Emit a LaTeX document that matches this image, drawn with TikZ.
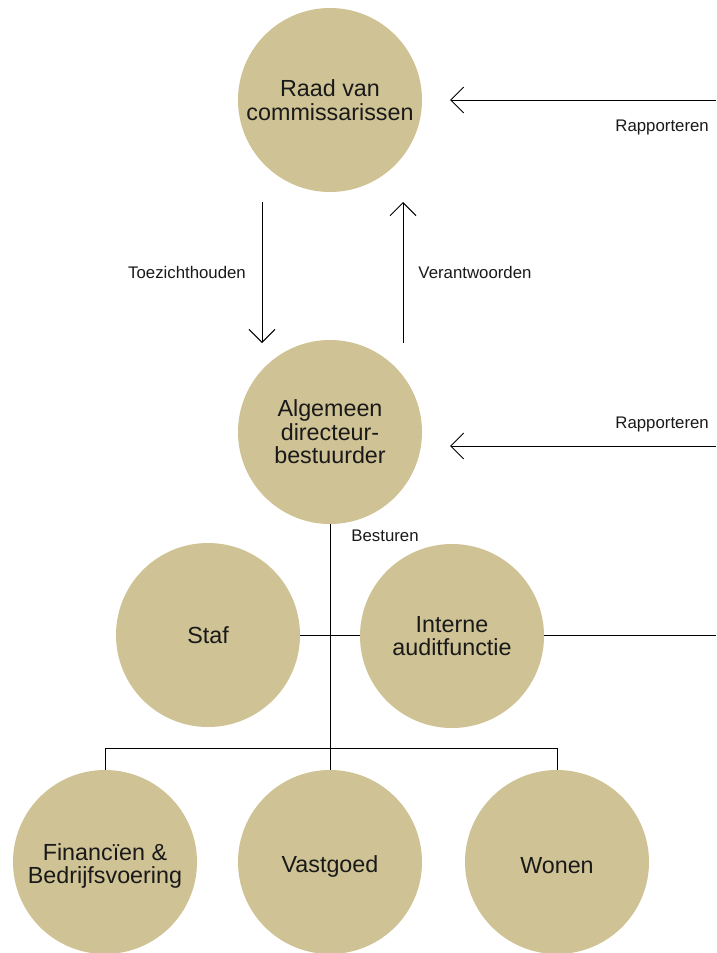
\documentclass[tikz,border=0pt]{standalone}
\usepackage{fontspec}
\setmainfont{Liberation Sans}
\usetikzlibrary{arrows.meta}
\definecolor{beige}{RGB}{207,194,148}
\tikzset{
  org/.style={circle, fill=beige, draw=none, minimum size=184pt, inner sep=0pt, align=center,
    font=\fontsize{23.3pt}{23.5pt}\selectfont, text=black!90},
  orgtext/.style={align=center, inner sep=0pt, font=\fontsize{23.3pt}{23.5pt}\selectfont, text=black!90},
  lbl/.style={font=\fontsize{16.8pt}{18pt}\selectfont, text=black!90, inner sep=0pt},
  conn/.style={line width=1pt, black},
  arr/.style={conn, -{Straight Barb[length=13pt,width=26pt,line width=1pt]}}
}
\begin{document}
\begin{tikzpicture}[x=1pt,y=-1pt]
\useasboundingbox (0,0) rectangle (716,953);
\node[org] (raad) at (330,100) {Raad van\\commissarissen};
\node[org] (adb) at (330,432) {Algemeen\\directeur-\\bestuurder};
\node[org] (staf) at (208,635) {Staf};
\node[org] (iaf) at (452,636) {Interne\\auditfunctie};
\node[org] (fin) at (105,862) {};
\node[org] (vast) at (330,862) {};
\node[org] (won) at (557,862) {};
\node[orgtext] (fintext) at (105,866) {Financïen \&\\Bedrijfsvoering};
\node[orgtext] (vasttext) at (330,866) {Vastgoed};
\node[orgtext] (wontext) at (557,866) {Wonen};

\coordinate (t1) at (262,202);
\coordinate (t2) at (262,343);
\coordinate (v1) at (403,343);
\coordinate (v2) at (403,202);
\draw[arr] (t1) -- (t2);
\draw[arr] (v1) -- (v2);
\node[lbl] (toez) at (187,272) {Toezichthouden};
\node[lbl] (verant) at (475,272) {Verantwoorden};

\coordinate (r1a) at (716,100);
\coordinate (r1b) at (450,100);
\draw[arr] (r1a) -- (r1b);
\node[lbl, anchor=east] (rap1) at (709,127) {Rapporteren};
\coordinate (r2a) at (716,446);
\coordinate (r2b) at (450,446);
\draw[arr] (r2a) -- (r2b);
\node[lbl, anchor=east] (rap2) at (709,424) {Rapporteren};

\coordinate (iafend) at (716,635);
\draw[conn] (iaf.east |- iafend) -- (iafend);

\coordinate (bus) at (330,748);
\draw[conn] (adb.south) -- (vast.north);
\draw[conn] (staf.east) -- (staf.east -| iaf.west);
\draw[conn] (fin.north) -- (fin.north |- bus) -- (won.north |- bus) -- (won.north);
\node[lbl] (best) at (385,536) {Besturen};
\end{tikzpicture}
\end{document}
